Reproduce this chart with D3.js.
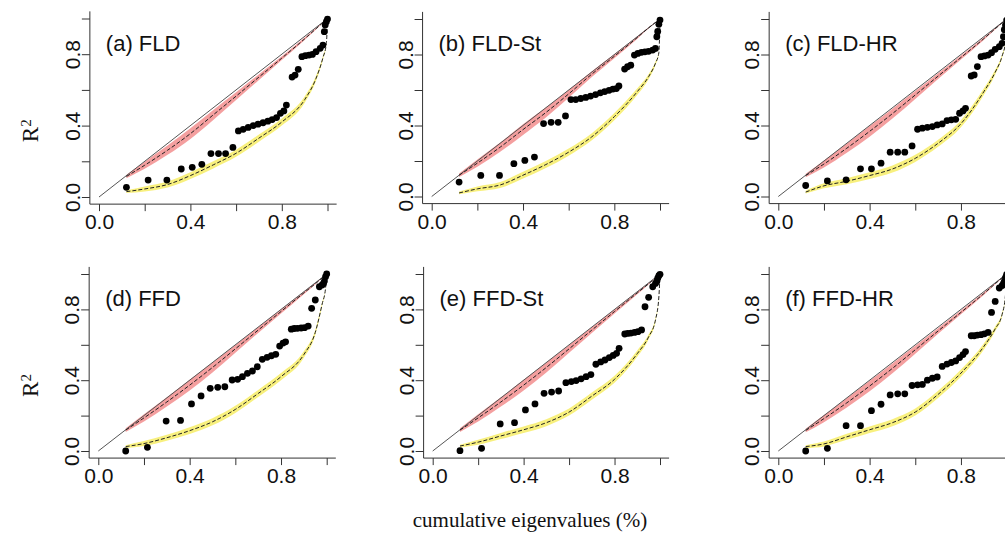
<!DOCTYPE html>
<html>
<head>
<meta charset="utf-8">
<script src="https://cdn.jsdelivr.net/npm/d3@7"></script>
<style>
  body { margin: 0; background: #fff; }
</style>
</head>
<body>
<svg id="chart" width="1005" height="534"></svg>
<script>
// cumulative eigenvalues, shared by all panels (x of the dots)
const cumEig = [0.12, 0.215, 0.297, 0.36, 0.408, 0.45, 0.49, 0.523, 0.554, 0.586,
  0.61, 0.631, 0.653, 0.675, 0.696, 0.718, 0.739, 0.758, 0.777, 0.794,
  0.809, 0.82, 0.845, 0.858, 0.872, 0.888, 0.903, 0.919, 0.934, 0.95,
  0.968, 0.98, 0.986, 0.99, 0.995, 1.0];

// R2 of each model (y of the dots)
const r2FLD = [0.054, 0.095, 0.095, 0.157, 0.166, 0.183, 0.243, 0.243, 0.243, 0.278,
  0.370, 0.379, 0.390, 0.400, 0.408, 0.416, 0.425, 0.434, 0.445, 0.469,
  0.482, 0.515, 0.672, 0.683, 0.715, 0.786, 0.792, 0.795, 0.799, 0.814,
  0.833, 0.851, 0.926, 0.964, 0.982, 0.997];
const r2FLDSt = [0.081, 0.119, 0.119, 0.185, 0.203, 0.222, 0.411, 0.418, 0.418, 0.454,
  0.546, 0.546, 0.552, 0.558, 0.566, 0.574, 0.584, 0.591, 0.598, 0.605,
  0.608, 0.623, 0.718, 0.731, 0.740, 0.797, 0.806, 0.812, 0.815, 0.818,
  0.825, 0.834, 0.900, 0.930, 0.970, 0.994];
const r2FLDHR = [0.062, 0.088, 0.094, 0.156, 0.156, 0.188, 0.250, 0.250, 0.250, 0.285,
  0.379, 0.385, 0.390, 0.394, 0.403, 0.409, 0.428, 0.432, 0.435, 0.469,
  0.482, 0.497, 0.679, 0.685, 0.732, 0.788, 0.792, 0.797, 0.810, 0.829,
  0.844, 0.863, 0.900, 0.940, 0.966, 0.994];
const r2FFD = [0.0, 0.021, 0.169, 0.173, 0.266, 0.311, 0.354, 0.360, 0.363, 0.401,
  0.405, 0.420, 0.439, 0.452, 0.476, 0.518, 0.529, 0.538, 0.546, 0.593,
  0.610, 0.617, 0.688, 0.692, 0.693, 0.695, 0.697, 0.706, 0.806, 0.853,
  0.928, 0.938, 0.947, 0.960, 0.985, 1.0];
const r2FFDSt = [0.002, 0.015, 0.153, 0.160, 0.232, 0.266, 0.326, 0.333, 0.339, 0.386,
  0.392, 0.398, 0.408, 0.420, 0.432, 0.490, 0.503, 0.514, 0.528, 0.540,
  0.552, 0.580, 0.661, 0.664, 0.666, 0.670, 0.674, 0.684, 0.815, 0.868,
  0.928, 0.947, 0.957, 0.976, 0.990, 0.998];
const r2FFDHR = [0.0, 0.015, 0.143, 0.143, 0.228, 0.264, 0.317, 0.323, 0.323, 0.370,
  0.374, 0.376, 0.400, 0.411, 0.418, 0.478, 0.491, 0.500, 0.509, 0.528,
  0.545, 0.562, 0.651, 0.651, 0.655, 0.657, 0.662, 0.670, 0.783, 0.845,
  0.921, 0.934, 0.945, 0.958, 0.980, 0.998];

// upper reference curve (red band)
const upperX = [0.12, 0.2, 0.3, 0.4, 0.5, 0.6, 0.7, 0.8, 0.9, 0.95, 1.0];
const upperHalf = [0.01, 0.02, 0.026, 0.03, 0.028, 0.022, 0.016, 0.011, 0.007, 0.004, 0.002];
const upperFLD = [0.115, 0.178, 0.262, 0.355, 0.46, 0.565, 0.672, 0.778, 0.886, 0.943, 1.0];
const upperFLDSt = [0.12, 0.188, 0.278, 0.377, 0.473, 0.578, 0.688, 0.79, 0.895, 0.95, 1.0];
const upperFLDHR = [0.118, 0.183, 0.272, 0.367, 0.467, 0.572, 0.678, 0.783, 0.889, 0.945, 1.0];
const upperFFD = [0.118, 0.187, 0.277, 0.372, 0.472, 0.577, 0.683, 0.788, 0.893, 0.945, 1.0];
const upperFFDSt = [0.118, 0.187, 0.277, 0.372, 0.472, 0.577, 0.683, 0.788, 0.893, 0.945, 1.0];
const upperFFDHR = [0.116, 0.183, 0.272, 0.367, 0.467, 0.572, 0.678, 0.783, 0.889, 0.945, 1.0];

// lower reference curve (yellow band)
const lowerX = [0.12, 0.2, 0.3, 0.4, 0.5, 0.6, 0.7, 0.8, 0.9, 0.95, 0.98, 0.995, 1.0];
const lowerHalf = [0.008, 0.014, 0.017, 0.019, 0.02, 0.02, 0.02, 0.02, 0.018, 0.014, 0.009, 0.004, 0.0];
const lowerFLD = [0.03, 0.045, 0.07, 0.12, 0.18, 0.245, 0.33, 0.42, 0.545, 0.665, 0.78, 0.86, 1.0];
const lowerFLDSt = [0.02, 0.043, 0.065, 0.12, 0.18, 0.25, 0.335, 0.45, 0.59, 0.675, 0.75, 0.81, 1.0];
const lowerFLDHR = [0.025, 0.06, 0.086, 0.118, 0.155, 0.215, 0.3, 0.41, 0.59, 0.70, 0.79, 0.87, 1.0];
const lowerFFD = [0.025, 0.042, 0.075, 0.115, 0.165, 0.235, 0.325, 0.42, 0.545, 0.67, 0.83, 0.92, 1.0];
const lowerFFDSt = [0.028, 0.05, 0.085, 0.12, 0.16, 0.22, 0.31, 0.405, 0.55, 0.645, 0.74, 0.87, 1.0];
const lowerFFDHR = [0.025, 0.04, 0.08, 0.12, 0.16, 0.22, 0.32, 0.44, 0.59, 0.69, 0.77, 0.88, 1.0];

const titles = ["(a) FLD", "(b) FLD-St", "(c) FLD-HR", "(d) FFD", "(e) FFD-St", "(f) FFD-HR"];
const tickVals = [0, 0.2, 0.4, 0.6, 0.8, 1.0];
const labelVals = [0, 0.4, 0.8];

const panels = [
  { title: titles[0], r2: r2FLD, up: upperFLD, low: lowerFLD, x0: 99, x1: 327.5, y0: 197, y1: 18.5, ylab: true },
  { title: titles[1], r2: r2FLDSt, up: upperFLDSt, low: lowerFLDSt, x0: 431.7, x1: 660, y0: 196.5, y1: 19 },
  { title: titles[2], r2: r2FLDHR, up: upperFLDHR, low: lowerFLDHR, x0: 778.3, x1: 1006.6, y0: 196.5, y1: 19 },
  { title: titles[3], r2: r2FFD, up: upperFFD, low: lowerFFD, x0: 98.3, x1: 326.7, y0: 451, y1: 274, ylab: true },
  { title: titles[4], r2: r2FFDSt, up: upperFFDSt, low: lowerFFDSt, x0: 432.7, x1: 660, y0: 451, y1: 274 },
  { title: titles[5], r2: r2FFDHR, up: upperFFDHR, low: lowerFFDHR, x0: 778.3, x1: 1006.6, y0: 451, y1: 274 }
];

const svg = d3.select("#chart");
const sans = "'Liberation Sans', Arial, sans-serif";
const serif = "'Liberation Serif', 'Times New Roman', serif";

panels.forEach(p => {
  const x = d3.scaleLinear().domain([0, 1]).range([p.x0, p.x1]);
  const y = d3.scaleLinear().domain([0, 1]).range([p.y0, p.y1]);
  const g = svg.append("g");

  //bands around the reference curves
  const band = (xs, ys, hw) => d3.area()
    .x((d, i) => x(xs[i]))
    .y0((d, i) => y(ys[i] - hw[i]))
    .y1((d, i) => y(ys[i] + hw[i]))
    .curve(d3.curveMonotoneX)(ys);
  const line = (xs, ys) => d3.line()
    .x((d, i) => x(xs[i]))
    .y(d => y(d))
    .curve(d3.curveMonotoneX)(ys);

  g.append("path").attr("d", band(upperX, p.up, upperHalf))
    .attr("fill", "#f07a7a").attr("opacity", 0.72);
  g.append("path").attr("d", band(lowerX, p.low, lowerHalf))
    .attr("fill", "#f6ec5e").attr("opacity", 0.8);

  //diagonal
  g.append("line")
    .attr("x1", x(0)).attr("y1", y(0)).attr("x2", x(1)).attr("y2", y(1))
    .attr("stroke", "#555").attr("stroke-width", 1);

  //dashed reference curves
  [[upperX, p.up], [lowerX, p.low]].forEach(([xs, ys]) => {
    g.append("path").attr("d", line(xs, ys))
      .attr("fill", "none").attr("stroke", "#222")
      .attr("stroke-width", 1).attr("stroke-dasharray", "4,2");
  });

  //dots
  g.selectAll("circle").data(p.r2).join("circle")
    .attr("cx", (d, i) => x(cumEig[i]))
    .attr("cy", d => y(d))
    .attr("r", 3.4)
    .attr("fill", "#000");

  //L-shaped box
  const bx = x(-0.04), by = y(-0.04);
  g.append("path")
    .attr("d", `M${bx},${y(1.04)}V${by}H${x(1.04)}`)
    .attr("fill", "none").attr("stroke", "#333").attr("stroke-width", 1);

  //y axis
  const ya = g.append("g").attr("transform", `translate(${bx},0)`)
    .call(d3.axisLeft(y).tickValues(tickVals).tickSize(8).tickSizeOuter(0)
      .tickFormat(d => labelVals.some(v => Math.abs(v - d) < 1e-9) ? d3.format(".1f")(d) : ""));
  ya.select(".domain").remove();
  ya.selectAll("line").attr("stroke", "#333");
  ya.selectAll("text")
    .attr("transform", "rotate(-90)")
    .attr("x", 0).attr("y", -10).attr("dy", 0)
    .attr("text-anchor", "middle")
    .attr("font-family", sans).attr("font-size", 21).attr("fill", "#111");

  //x axis
  const xa = g.append("g").attr("transform", `translate(0,${by})`)
    .call(d3.axisBottom(x).tickValues(tickVals).tickSize(7).tickSizeOuter(0)
      .tickFormat(d => labelVals.some(v => Math.abs(v - d) < 1e-9) ? d3.format(".1f")(d) : ""));
  xa.select(".domain").remove();
  xa.selectAll("line").attr("stroke", "#333");
  xa.selectAll("text")
    .attr("font-family", sans).attr("font-size", 21).attr("fill", "#111");

  //panel title
  g.append("text")
    .attr("x", x(0.03)).attr("y", y(0.82))
    .attr("font-family", sans).attr("font-size", 22).attr("fill", "#111")
    .text(p.title);

  //R2 label
  if (p.ylab) {
    const t = g.append("text")
      .attr("transform", `translate(38,${(p.y0 + p.y1) / 2 + 23}) rotate(-90)`)
      .attr("text-anchor", "middle")
      .attr("font-family", serif).attr("font-size", 23).attr("fill", "#111");
    t.append("tspan").text("R");
    t.append("tspan").attr("dy", "-0.45em").attr("font-size", 15).text("2");
  }
});

svg.append("text")
  .attr("x", 530).attr("y", 527)
  .attr("text-anchor", "middle")
  .attr("font-family", serif).attr("font-size", 21).attr("fill", "#111")
  .text("cumulative eigenvalues (%)");
</script>
</body>
</html>
